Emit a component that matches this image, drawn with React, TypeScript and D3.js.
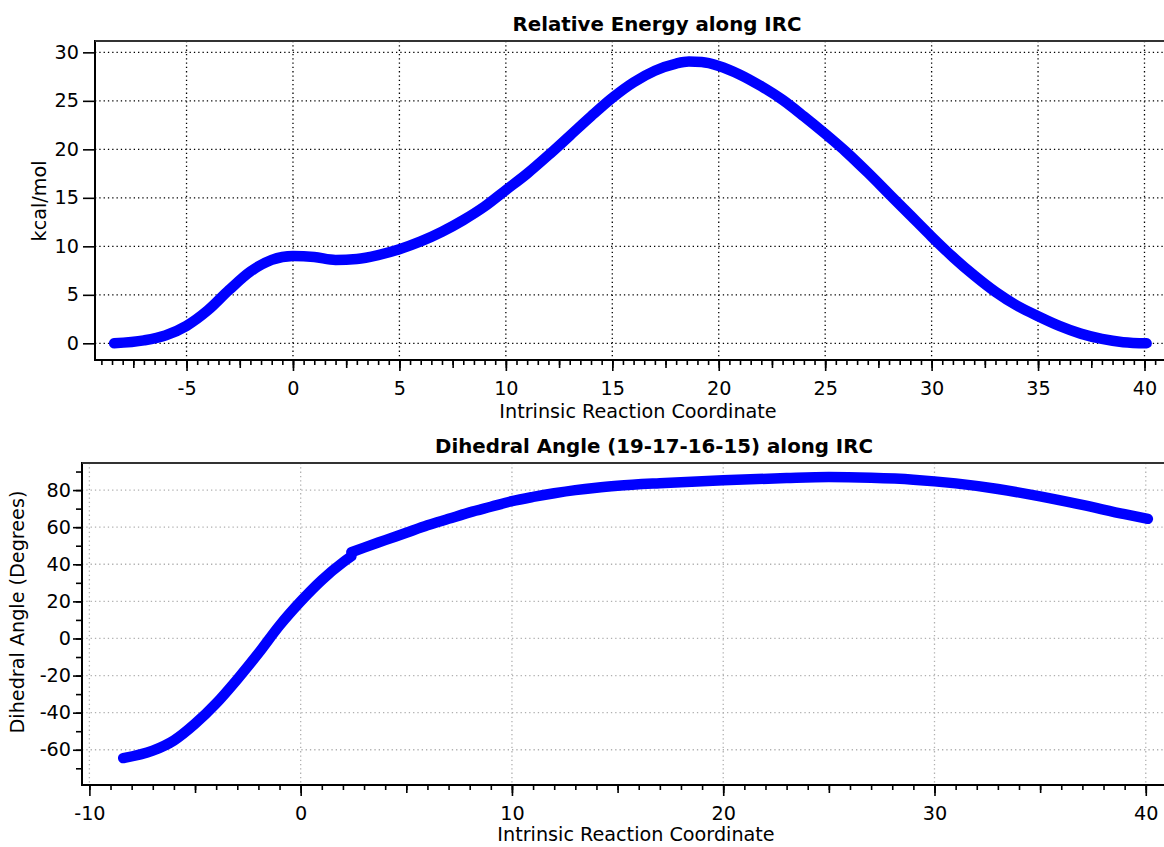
import * as d3 from "d3";
import { useEffect, useRef } from "react";

// energy profile along the IRC (kcal/mol)
const energyIrc = [-8.4, -7, -6, -5, -4, -3, -2, -1, 0, 1, 2, 3, 4, 5, 6, 7, 8, 9, 10, 11, 12, 13, 14, 15, 16, 17, 18, 18.6, 19.2, 20, 21, 22, 23, 24, 25, 26, 27, 28, 29, 30, 31, 32, 33, 34, 35, 36, 37, 38, 39, 40.1];
const energyKcal = [0, 0.3, 0.8, 1.8, 3.4, 5.5, 7.4, 8.6, 9.0, 8.9, 8.6, 8.7, 9.1, 9.7, 10.5, 11.5, 12.7, 14.1, 15.8, 17.5, 19.4, 21.4, 23.4, 25.3, 26.9, 28.1, 28.85, 29.05, 29.0, 28.6, 27.7, 26.5, 25.1, 23.4, 21.6, 19.7, 17.6, 15.4, 13.2, 11.0, 8.9, 7.0, 5.3, 3.9, 2.8, 1.8, 1.0, 0.45, 0.12, 0];

// dihedral 19-17-16-15 (degrees), two pieces with the small jump near 2.4
const angleIrcA = [-8.4, -7, -6, -5, -4, -3, -2, -1, 0, 1, 2, 2.4];
const angleDegA = [-64.5, -60.5, -55, -46, -35, -22, -8, 7, 20, 31.5, 41, 44.3];
const angleIrcB = [2.4, 3, 4, 5, 6, 7, 8, 9, 10, 11, 12, 13, 14, 15, 17, 20, 23, 25, 27, 29, 31, 33, 35, 37, 39, 40.1];
const angleDegB = [46.5, 49, 53, 57, 61, 64.5, 68, 71, 74, 76.3, 78.3, 80, 81.3, 82.3, 83.7, 85.3, 86.5, 87, 86.6, 85.6, 83.6, 80.6, 76.6, 72, 67, 64.5];

const energyYTicks = [0, 5, 10, 15, 20, 25, 30];
const energyXTicks = [-5, 0, 5, 10, 15, 20, 25, 30, 35, 40];
const angleYTicks = [-60, -40, -20, 0, 20, 40, 60, 80];
const angleXTicks = [-10, 0, 10, 20, 30, 40];

const FONT = "'DejaVu Sans', sans-serif";
const FS = 19.2;

function App() {
  const ref = useRef(null);

  useEffect(() => {
    document.body.style.margin = "0";
    const svg = d3.select(ref.current);
    svg.selectAll("*").remove();

    const panel = (cfg) => {
      const g = svg.append("g");
      const x = d3.scaleLinear().domain(cfg.xDomain).range([cfg.left, cfg.right]);
      const y = d3.scaleLinear().domain(cfg.yDomain).range([cfg.bottom, cfg.top]);

      // grid
      g.append("g")
        .selectAll("line.vg")
        .data(cfg.xTicks)
        .join("line")
        .attr("x1", (d) => x(d))
        .attr("x2", (d) => x(d))
        .attr("y1", cfg.top)
        .attr("y2", cfg.bottom)
        .attr("stroke", cfg.gridColor)
        .attr("stroke-width", 1.3)
        .attr("stroke-dasharray", "1.3,3");
      g.append("g")
        .selectAll("line.hg")
        .data(cfg.yTicks)
        .join("line")
        .attr("x1", cfg.left)
        .attr("x2", cfg.right)
        .attr("y1", (d) => y(d))
        .attr("y2", (d) => y(d))
        .attr("stroke", cfg.gridColor)
        .attr("stroke-width", 1.3)
        .attr("stroke-dasharray", "1.3,3");

      // curves
      const line = d3
        .line()
        .x((d) => x(d[0]))
        .y((d) => y(d[1]))
        .curve(d3.curveMonotoneX);
      cfg.series.forEach(([xs, ys]) => {
        g.append("path")
          .datum(xs.map((v, i) => [v, ys[i]]))
          .attr("fill", "none")
          .attr("stroke", "#0000ff")
          .attr("stroke-width", 10.5)
          .attr("stroke-linecap", "round")
          .attr("stroke-linejoin", "round")
          .attr("d", line);
      });

      // x ticks (minor / medium / major)
      const xt = (values, size) =>
        g.append("g")
          .attr("transform", `translate(0,${cfg.bottom})`)
          .call(d3.axisBottom(x).tickValues(values).tickSize(size).tickFormat(""))
          .call((a) => a.select(".domain").remove())
          .selectAll("line")
          .attr("stroke", "#000")
          .attr("stroke-width", 1.6);
      xt(d3.range(cfg.xMinorStart, cfg.xDomain[1], cfg.xMinor), 5);
      xt(d3.range(cfg.xMidStart, cfg.xDomain[1], cfg.xMid), 8);
      const xa = g.append("g")
        .attr("transform", `translate(0,${cfg.bottom})`)
        .call(d3.axisBottom(x).tickValues(cfg.xTicks).tickSize(11).tickPadding(10).tickFormat(d3.format("d")));
      xa.select(".domain").remove();
      xa.selectAll("line").attr("stroke", "#000").attr("stroke-width", 1.6);
      xa.selectAll("text").attr("font-family", FONT).attr("font-size", FS).attr("fill", "#000")
        .text((d) => String(d));

      // y ticks
      if (cfg.yMinor) {
        g.append("g")
          .attr("transform", `translate(${cfg.left},0)`)
          .call(d3.axisLeft(y).tickValues(cfg.yMinor).tickSize(6).tickFormat(""))
          .call((a) => a.select(".domain").remove())
          .selectAll("line")
          .attr("stroke", "#000")
          .attr("stroke-width", 1.6);
      }
      const ya = g.append("g")
        .attr("transform", `translate(${cfg.left},0)`)
        .call(d3.axisLeft(y).tickValues(cfg.yTicks).tickSize(cfg.yTickSize).tickPadding(cfg.yPad));
      ya.select(".domain").remove();
      ya.selectAll("line").attr("stroke", "#000").attr("stroke-width", 1.6);
      ya.selectAll("text").attr("font-family", FONT).attr("font-size", FS).attr("fill", "#000")
        .text((d) => String(d));

      // spines: left, top, bottom
      const sp = (x1, y1, x2, y2, c) =>
        g.append("line").attr("x1", x1).attr("y1", y1).attr("x2", x2).attr("y2", y2)
          .attr("stroke", c).attr("stroke-width", 2);
      sp(cfg.left, cfg.top - 1, cfg.left, cfg.bottom + 1, "#000");
      sp(cfg.left, cfg.top, cfg.right, cfg.top, "#333");
      sp(cfg.left - 1, cfg.bottom, cfg.right, cfg.bottom, "#000");

      // texts
      g.append("text")
        .attr("x", cfg.titleX)
        .attr("y", cfg.titleY)
        .attr("text-anchor", "middle")
        .attr("font-family", FONT)
        .attr("font-weight", "bold")
        .attr("font-size", 19.8)
        .text(cfg.title);
      g.append("text")
        .attr("x", cfg.xLabelX)
        .attr("y", cfg.xLabelY)
        .attr("text-anchor", "middle")
        .attr("font-family", FONT)
        .attr("font-size", FS)
        .text("Intrinsic Reaction Coordinate");
      g.append("text")
        .attr("transform", `translate(${cfg.yLabelX},${cfg.yLabelY}) rotate(-90)`)
        .attr("text-anchor", "middle")
        .attr("font-family", FONT)
        .attr("font-size", FS)
        .text(cfg.yLabel);
    };

    panel({
      left: 95, right: 1219, top: 41, bottom: 360,
      xDomain: [-9.3, 43.5], yDomain: [-1.72, 31.17],
      xTicks: energyXTicks, yTicks: energyYTicks,
      xMinorStart: -9, xMinor: 0.5, xMidStart: -7.5, xMid: 2.5,
      yTickSize: 12, yPad: 4,
      gridColor: "#000",
      series: [[energyIrc, energyKcal]],
      title: "Relative Energy along IRC", titleX: 657, titleY: 31,
      xLabelX: 638, xLabelY: 418,
      yLabel: "kcal/mol", yLabelX: 46, yLabelY: 201,
    });

    panel({
      left: 82, right: 1225, top: 463, bottom: 785,
      xDomain: [-10.35, 43.75], yDomain: [-79, 94.6],
      xTicks: angleXTicks, yTicks: angleYTicks,
      xMinorStart: -10, xMinor: 1, xMidStart: -5, xMid: 5,
      yMinor: d3.range(-70, 95, 10),
      yTickSize: 9, yPad: 2,
      gridColor: "#b0b0b0",
      series: [[angleIrcA, angleDegA], [angleIrcB, angleDegB]],
      title: "Dihedral Angle (19-17-16-15) along IRC", titleX: 654, titleY: 453,
      xLabelX: 636, xLabelY: 841,
      yLabel: "Dihedral Angle (Degrees)", yLabelX: 24, yLabelY: 612,
    });
  }, []);

  return <svg ref={ref} width={1164} height={847} style={{ display: "block", background: "#fff" }} />;
}

export default App;
